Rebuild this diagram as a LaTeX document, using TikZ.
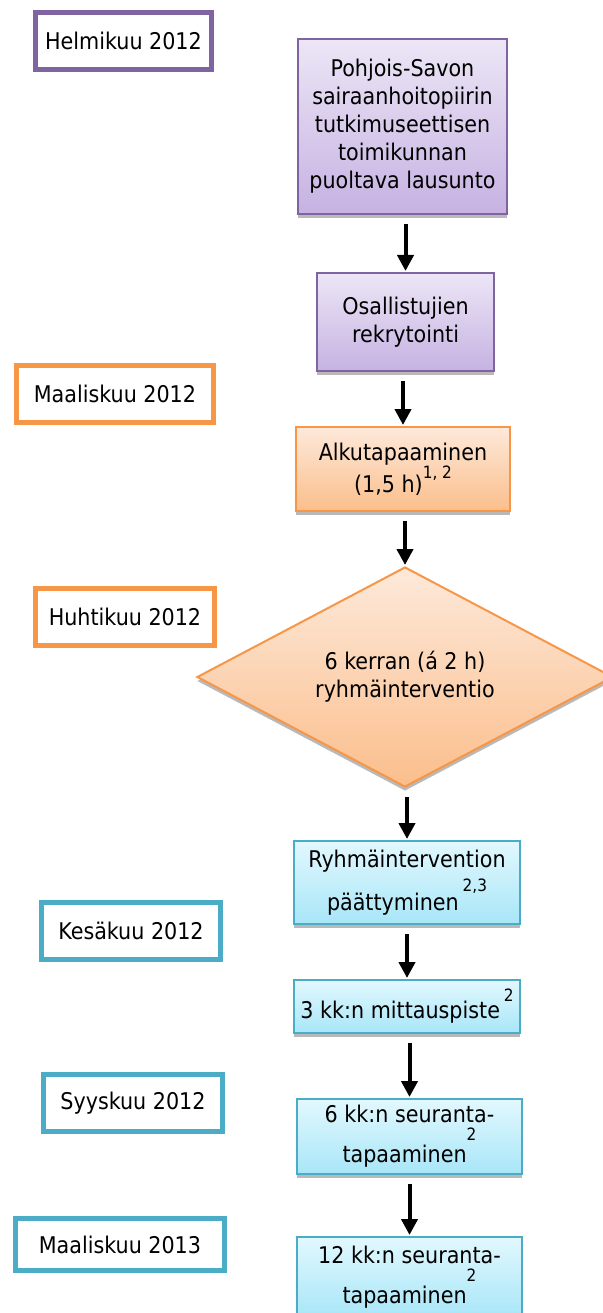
\documentclass[tikz,border=0pt]{standalone}
\usepackage{fontspec}
\setmainfont{DejaVu Sans Condensed}
\usepackage{xcolor}
\usepackage{tikz}
\usetikzlibrary{arrows.meta,positioning,shapes.geometric,shadows}
\definecolor{Plum}{HTML}{8064A2}
\definecolor{PlumTop}{HTML}{ECE6F6}
\definecolor{PlumBot}{HTML}{C6B2E2}
\definecolor{Tangerine}{HTML}{F79646}
\definecolor{PeachTop}{HTML}{FDE9DA}
\definecolor{PeachBot}{HTML}{FBBE8C}
\definecolor{Aqua}{HTML}{4BACC6}
\definecolor{IceTop}{HTML}{E2F8FE}
\definecolor{IceBot}{HTML}{A8E6F8}
\newcommand{\supnum}[2][8pt]{\raisebox{#1}{\fontsize{17}{17}\selectfont #2}}

\begin{document}
\begin{tikzpicture}[x=1pt,y=-1pt,
  every node/.style={font=\fontsize{23}{28}\selectfont,align=center,text=black},
  month/.style={draw=#1,line width=5pt,fill=white,minimum height=57pt,inner sep=0pt},
  phase/.style={draw=#1,line width=2pt,inner sep=2pt,
    drop shadow={shadow xshift=0pt,shadow yshift=-4pt,fill=gray!55,opacity=1}},
  purple/.style={phase=Plum,top color=PlumTop,bottom color=PlumBot},
  orange/.style={phase=Tangerine,top color=PeachTop,bottom color=PeachBot},
  blue/.style={phase=Aqua,top color=IceTop,bottom color=IceBot},
  arr/.style={-{Triangle[length=16pt,width=16pt]},line width=4pt,shorten <=9pt,shorten >=1pt}
]
\useasboundingbox (0,0) rectangle (602,1313);
% flow
\node[purple,minimum width=209pt,minimum height=175pt] (lausunto) at (402.5,126.5)
  {Pohjois-Savon\\sairaanhoitopiirin\\tutkimuseettisen\\toimikunnan\\puoltava lausunto};
\node[purple,minimum width=177pt,minimum height=98pt,below=57pt of lausunto,xshift=3pt] (rekry)
  {Osallistujien\\rekrytointi};
\node[orange,minimum width=214pt,minimum height=84pt,below=54pt of rekry,xshift=-2.5pt] (alku)
  {Alkutapaaminen\\(1,5 h)\supnum[14pt]{1, 2}};
\node[orange,shape=diamond,aspect=2,minimum width=416pt,minimum height=220pt,inner sep=0pt,below=54pt of alku,xshift=2pt] (interv)
  {6 kerran (á 2 h)\\ryhmäinterventio};
\node[blue,minimum width=226pt,minimum height=83pt,below=52pt of interv,xshift=2pt] (loppu)
  {Ryhmäintervention\\[6pt]päättyminen\,\supnum[19pt]{2,3}};
\node[blue,minimum width=226pt,minimum height=53pt,below=54pt of loppu] (mitta)
  {3 kk:n mittauspiste\,\supnum[17pt]{2}};
\node[blue,minimum width=225pt,minimum height=75pt,below=64pt of mitta,xshift=2.5pt] (seur6)
  {6 kk:n seuranta-\\[4pt]tapaaminen\supnum[22pt]{2}};
\node[blue,minimum width=225pt,minimum height=80pt,below=61pt of seur6] (seur12)
  {12 kk:n seuranta-\\[4pt]tapaaminen\supnum[22pt]{2}};
\draw[arr] (rekry.north |- lausunto.south) -- (rekry.north);
\draw[arr] (alku.north |- rekry.south) -- (alku.north);
\draw[arr] (interv.north |- alku.south) -- (interv.north);
\draw[arr] (loppu.north |- interv.south) -- (loppu.north);
\draw[arr] (mitta.north |- loppu.south) -- (mitta.north);
\draw[arr] (seur6.north |- mitta.south) -- (seur6.north);
\draw[arr] (seur12.north |- seur6.south) -- (seur12.north);
% dates
\node[month=Plum,minimum width=176pt] (helmi12) at (123.5,41) {Helmikuu 2012};
\node[month=Tangerine,minimum width=197pt] (maalis12) at (115,394) {Maaliskuu 2012};
\node[month=Tangerine,minimum width=179pt] (huhti12) at (125,617) {Huhtikuu 2012};
\node[month=Aqua,minimum width=179pt] (kesa12) at (131,930.5) {Kesäkuu 2012};
\node[month=Aqua,minimum width=179pt] (syys12) at (133,1103) {Syyskuu 2012};
\node[month=Aqua,minimum width=209pt,minimum height=52pt] (maalis13) at (120,1244.5) {Maaliskuu 2013};
\end{tikzpicture}
\end{document}
